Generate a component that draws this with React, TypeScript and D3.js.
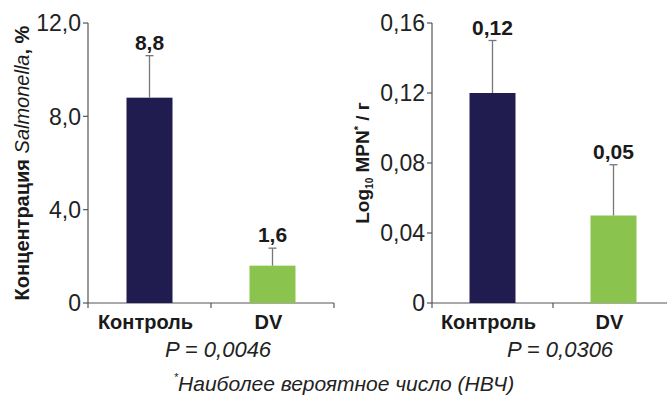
import React from "react";
import * as d3 from "d3";

const categories = ["Контроль", "DV"];
const salmonellaValues = [8.8, 1.6];
const salmonellaErrors = [10.6, 2.35];
const salmonellaTicks = [0, 4, 8, 12];
const salmonellaLabels = ["8,8", "1,6"];
const mpnValues = [0.12, 0.05];
const mpnErrors = [0.15, 0.079];
const mpnTicks = [0, 0.04, 0.08, 0.12, 0.16];
const mpnLabels = ["0,12", "0,05"];
const colors = ["#201c50", "#8bc34f"];

const FONT = "'Liberation Sans', Arial, sans-serif";

type PanelProps = {
  left: number;
  right: number;
  values: number[];
  errors: number[];
  labels: string[];
  ticks: number[];
  max: number;
  tickFormat: (v: number) => string;
  pText: string;
  title: React.ReactNode;
  titleX: number;
  titleSize: number;
};

const Panel = ({ left, right, values, errors, labels, ticks, max, tickFormat, pText, title, titleX, titleSize }: PanelProps) => {
  const top = 23;
  const bottom = 303;

  // scales
  const x = d3.scaleBand().domain(categories).range([left, right]).paddingInner(0).paddingOuter(0);
  const y = d3.scaleLinear().domain([0, max]).range([bottom, top]);
  const barW = 46;

  return (
    <g fontFamily={FONT}>
      {/* y axis */}
      <line x1={left} x2={left} y1={top} y2={bottom} stroke="#555" strokeWidth={1.2} />
      {ticks.map((t) => (
        <g key={t}>
          <line x1={left - 5} x2={left} y1={y(t)} y2={y(t)} stroke="#555" strokeWidth={1.2} />
          <text x={left - 7} y={y(t)} dy="0.36em" textAnchor="end" fontSize={23} fill="#222">
            {t === 0 ? "0" : tickFormat(t)}
          </text>
        </g>
      ))}
      {/* x axis */}
      <line x1={left} x2={right} y1={bottom} y2={bottom} stroke="#555" strokeWidth={1.2} />
      {[left, left + x.bandwidth(), right].map((t, i) => (
        <line key={i} x1={t} x2={t} y1={bottom} y2={bottom + 5} stroke="#555" strokeWidth={1.2} />
      ))}

      {categories.map((c, i) => {
        const cx = (x(c) as number) + x.bandwidth() / 2;
        return (
          <g key={c}>
            <rect x={cx - barW / 2} y={y(values[i])} width={barW} height={bottom - y(values[i])} fill={colors[i]} />
            <line x1={cx} x2={cx} y1={y(values[i])} y2={y(errors[i])} stroke="#777" strokeWidth={1.3} />
            <line x1={cx - 4} x2={cx + 4} y1={y(errors[i])} y2={y(errors[i])} stroke="#777" strokeWidth={1.3} />
            <text x={cx} y={y(errors[i]) - 6} textAnchor="middle" fontSize={21} fontWeight="bold" fill="#1a1a1a">
              {labels[i]}
            </text>
            <text x={cx - 4} y={329} textAnchor="middle" fontSize={20} fontWeight="bold" fill="#1a1a1a">
              {c}
            </text>
          </g>
        );
      })}

      <text x={left + x.bandwidth() + 7} y={357} textAnchor="middle" fontSize={22} fontStyle="italic" fill="#222">
        {pText}
      </text>

      <text
        transform={`translate(${titleX},${(top + bottom) / 2}) rotate(-90)`}
        dy="0.35em"
        textAnchor="middle"
        fontSize={titleSize}
        fontWeight="bold"
        fill="#1a1a1a"
      >
        {title}
      </text>
    </g>
  );
};

export default function App() {
  const comma = (digits: number) => (v: number) => v.toFixed(digits).replace(".", ",");
  return (
    <svg width={667} height={399} style={{ display: "block", position: "absolute", left: 0, top: 0 }}>
      <rect width={667} height={399} fill="#fff" />
      <Panel
        left={88}
        right={334}
        values={salmonellaValues}
        errors={salmonellaErrors}
        labels={salmonellaLabels}
        ticks={salmonellaTicks}
        max={12}
        tickFormat={comma(1)}
        pText="P = 0,0046"
        titleX={22}
        titleSize={20}
        title={
          <>
            <tspan>Концентрация </tspan>
            <tspan fontStyle="italic" fontWeight="normal">Salmonella</tspan>
            <tspan>, %</tspan>
          </>
        }
      />
      <Panel
        left={432}
        right={674}
        values={mpnValues}
        errors={mpnErrors}
        labels={mpnLabels}
        ticks={mpnTicks}
        max={0.16}
        tickFormat={comma(2)}
        pText="P = 0,0306"
        titleX={362}
        titleSize={19}
        title={
          <>
            <tspan>Log</tspan>
            <tspan fontSize={10} dy="4">10</tspan>
            <tspan dy="-4"> MPN</tspan>
            <tspan fontSize={11} dy="-7">*</tspan>
            <tspan dy="7"> / г</tspan>
          </>
        }
      />
      <text x={344} y={391} textAnchor="middle" fontFamily={FONT} fontSize={21} fontStyle="italic" fill="#222">
        <tspan fontSize={11} dy="-10">*</tspan>
        <tspan dy="10">Наиболее вероятное число (НВЧ)</tspan>
      </text>
    </svg>
  );
}
